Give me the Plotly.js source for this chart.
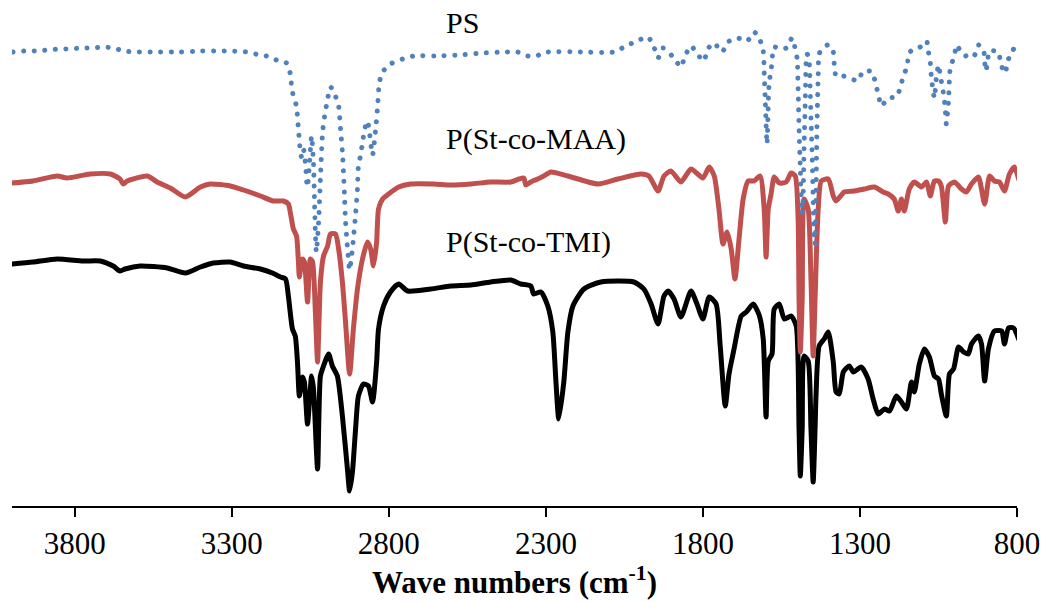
<!DOCTYPE html>
<html>
<head>
<meta charset="utf-8">
<script src="https://cdn.plot.ly/plotly-3.0.1.min.js"></script>
<style>
  html, body { margin: 0; padding: 0; background: #ffffff; }
  #chart { width: 1046px; height: 602px; }
</style>
</head>
<body>
<div id="chart"></div>
<script>
// ---- Data (wavenumber in cm-1, transmittance in arbitrary offset units) ----
const psWn = [3997,3962,3923,3888,3853,3818,3780,3745,3710,3678,3643,3608,3541,3467,3397,3324,3251,3212,3190,3158,3126,3113,3110,3103,3094,3091,3088,3085,3082,3078,3072,3065,3062,3059,3053,3046,3040,3037,3034,3031,3024,3018,3011,3005,2995,2986,2976,2967,2960,2954,2948,2944,2941,2938,2932,2925,2919,2913,2906,2900,2897,2890,2884,2877,2868,2862,2852,2842,2836,2830,2820,2795,2756,2721,2651,2578,2501,2428,2390,2358,2332,2294,2189,2083,2045,2010,1975,1956,1943,1927,1914,1892,1870,1857,1838,1816,1796,1787,1765,1739,1720,1691,1659,1637,1621,1608,1605,1602,1599,1596,1589,1583,1573,1554,1535,1516,1506,1500,1497,1494,1490,1487,1484,1481,1478,1474,1471,1468,1462,1459,1456,1452,1449,1446,1443,1440,1437,1433,1430,1417,1401,1385,1382,1376,1353,1331,1308,1289,1261,1251,1241,1232,1210,1184,1171,1162,1149,1146,1130,1108,1088,1082,1076,1073,1069,1063,1057,1050,1044,1037,1031,1028,1025,1018,1015,1012,999,993,980,964,951,935,923,907,903,900,894,888,859,852,837,830,814,801];
const psT  = [454,455,455,456,457,457,458,458,459,458,455,454,454,454,455,455,454,451,450,446,443,431,420,408,400,389,377,365,354,349,357,340,325,319,342,370,342,307,272,254,282,327,374,389,407,419,415,407,400,377,354,330,307,284,259,236,249,267,292,317,340,351,363,377,385,374,351,377,399,424,434,442,447,450,450,451,453,454,454,450,450,454,454,454,460,465,469,459,448,458,455,448,439,450,460,451,445,456,463,454,464,468,465,474,468,455,434,410,382,362,424,435,459,457,458,468,457,447,417,377,337,307,292,307,357,407,447,452,445,422,387,347,307,267,262,307,377,430,452,459,461,454,442,430,430,428,425,435,434,423,411,400,408,409,419,430,440,452,457,459,465,454,443,430,419,408,427,441,430,418,405,394,382,405,428,439,450,461,455,450,453,451,461,457,445,435,442,455,454,442,433,445,455,463];

const maaWn = [4000,3933,3856,3825,3751,3687,3656,3646,3633,3569,3538,3496,3448,3400,3369,3305,3263,3209,3168,3136,3120,3113,3104,3094,3088,3085,3078,3075,3069,3059,3050,3043,3034,3027,3018,3008,2995,2986,2970,2960,2948,2938,2925,2913,2900,2884,2868,2858,2849,2839,2833,2820,2801,2769,2731,2657,2603,2539,2476,2412,2386,2370,2364,2348,2342,2326,2307,2284,2230,2134,2071,1997,1972,1943,1924,1902,1870,1838,1800,1780,1764,1749,1736,1723,1710,1698,1685,1672,1656,1637,1618,1605,1599,1592,1583,1573,1557,1535,1519,1506,1497,1494,1490,1484,1478,1465,1456,1449,1443,1433,1423,1401,1385,1376,1350,1318,1286,1254,1226,1210,1191,1178,1168,1159,1143,1127,1104,1088,1076,1063,1050,1041,1028,1018,999,977,961,945,923,903,887,872,856,840,824,808,795];
const maaT  = [323,325,330,328,332,332,327,322,325,330,324,318,309,319,322,320,316,310,305,305,302,292,277,270,244,229,245,247,244,204,247,244,194,144,224,250,260,272,272,257,224,184,132,177,217,247,264,257,240,264,297,307,312,319,322,322,321,322,324,324,327,328,321,324,325,327,330,334,330,322,327,332,330,315,330,335,324,337,328,339,330,297,262,274,257,227,267,307,325,325,330,297,249,297,312,329,323,324,333,330,287,207,154,207,307,297,227,150,207,297,325,327,310,305,314,315,317,319,314,312,307,295,307,295,317,324,319,324,310,325,325,320,284,320,324,317,314,322,329,302,330,325,324,315,332,339,327];

const tmiWn = [4000,3933,3856,3774,3719,3678,3656,3640,3592,3506,3448,3400,3359,3305,3263,3209,3171,3145,3129,3120,3107,3098,3091,3085,3075,3069,3059,3046,3040,3027,3018,3008,2992,2980,2964,2948,2932,2925,2916,2906,2897,2881,2865,2852,2839,2833,2817,2795,2769,2740,2667,2603,2539,2476,2412,2380,2348,2339,2316,2294,2278,2268,2259,2243,2230,2214,2179,2125,2020,1988,1965,1943,1924,1911,1892,1870,1838,1819,1800,1780,1758,1745,1729,1717,1701,1678,1662,1640,1621,1608,1599,1592,1580,1573,1557,1541,1519,1503,1494,1490,1484,1478,1465,1456,1449,1443,1440,1430,1414,1401,1385,1376,1366,1353,1334,1321,1296,1274,1258,1242,1222,1206,1184,1168,1152,1136,1127,1111,1095,1079,1063,1050,1041,1025,1015,1002,986,970,955,945,923,913,903,891,872,849,840,827,811,795];
const tmiT  = [242,244,247,245,245,240,235,237,240,238,233,239,243,244,240,237,233,229,227,210,177,170,144,110,129,124,82,130,117,37,130,140,152,140,130,90,37,15,34,77,110,122,120,104,144,177,200,214,222,215,217,220,221,224,226,222,220,212,214,200,174,124,87,124,174,200,217,224,224,217,202,182,210,215,207,189,215,202,187,209,202,160,100,132,157,190,194,202,191,167,89,145,152,197,202,187,190,180,77,30,77,150,145,77,24,77,110,160,167,174,144,114,112,134,140,134,139,127,107,92,97,95,110,104,97,124,114,142,157,149,130,127,112,90,132,137,159,154,152,162,170,162,125,157,175,175,162,178,178,167];

// ---- Curve labels ----
const labelText = ["PS", "P(St-co-MAA)", "P(St-co-TMI)"];
const labelWn = [2626, 2626, 2626];
const labelY = [484, 367, 264];

// ---- Axis ticks ----
const tickVals = [3800, 3300, 2800, 2300, 1800, 1300, 800];
const tickText = ["3800", "3300", "2800", "2300", "1800", "1300", "800"];

const serif = "Liberation Serif";

const traces = [
  { x: tmiWn, y: tmiT, type: "scatter", mode: "lines", name: "P(St-co-TMI)",
    line: { color: "#000000", width: 5, shape: "spline", smoothing: 0.6 }, hoverinfo: "skip" },
  { x: maaWn, y: maaT, type: "scatter", mode: "lines", name: "P(St-co-MAA)",
    line: { color: "#C0504D", width: 5, shape: "spline", smoothing: 0.6 }, hoverinfo: "skip" },
  { x: psWn, y: psT, type: "scatter", mode: "lines", name: "PS",
    line: { color: "#4F81BD", width: 5, dash: "0.1px,10.5px", shape: "spline", smoothing: 0.6 }, hoverinfo: "skip" }
];

const annotations = labelText.map((t, i) => ({
  x: labelWn[i], y: labelY[i], xref: "x", yref: "y",
  text: t, showarrow: false, xanchor: "left", yanchor: "middle",
  font: { family: serif, size: 30, color: "#000000" }
}));

const layout = {
  width: 1046, height: 602,
  margin: { l: 12, r: 29, t: 0, b: 96 },
  paper_bgcolor: "#ffffff", plot_bgcolor: "#ffffff",
  font: { family: serif, size: 30, color: "#000000" },
  showlegend: false,
  xaxis: {
    range: [4000, 800],
    tickmode: "array", tickvals: tickVals, ticktext: tickText,
    ticks: "outside", ticklen: 9, tickwidth: 1.5, tickcolor: "#000000",
    showline: true, linecolor: "#000000", linewidth: 1.5,
    showgrid: false, zeroline: false,
    tickfont: { family: serif, size: 31, color: "#000000" },
    title: { text: "<b>Wave numbers (cm<sup>-1</sup>)</b>", standoff: 2,
             font: { family: serif, size: 31, color: "#000000" } },
    automargin: false
  },
  yaxis: {
    range: [0, 506], visible: false, showgrid: false, zeroline: false, fixedrange: true
  },
  annotations: annotations
};

Plotly.newPlot("chart", traces, layout, { staticPlot: true, displayModeBar: false }).then(() => {
  document.querySelectorAll(".scatterlayer path.js-line").forEach(p => {
    p.style.strokeLinejoin = "round";
    p.style.strokeLinecap = "round";
  });
});
</script>
</body>
</html>
